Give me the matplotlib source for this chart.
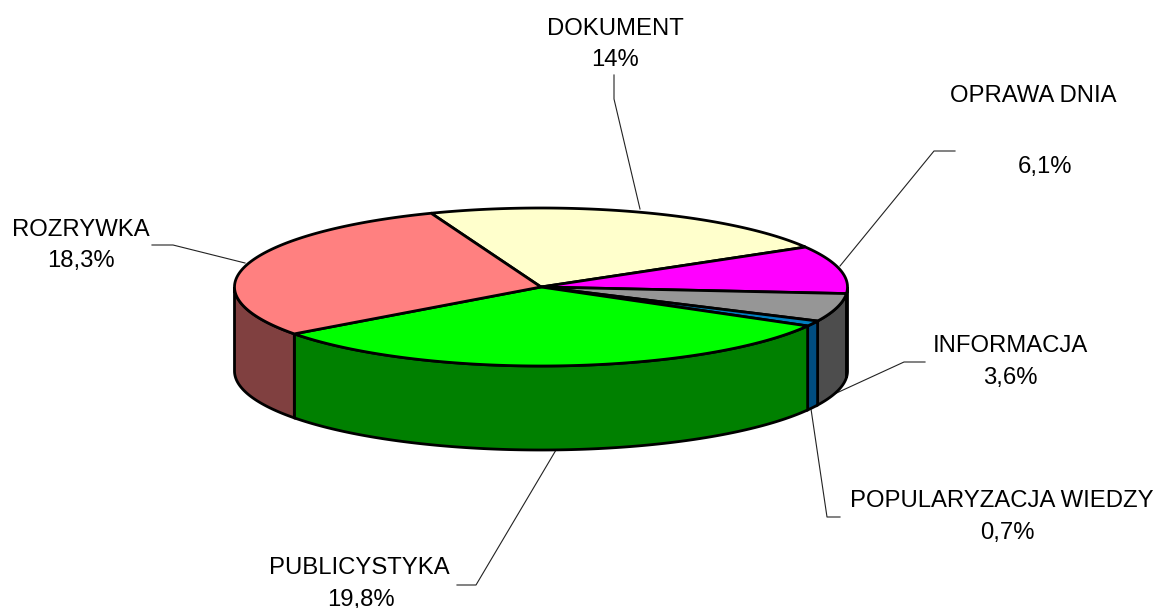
import numpy as np
import matplotlib
matplotlib.use('Agg')
import matplotlib.pyplot as plt
from matplotlib.patches import Polygon

names = ["DOKUMENT", "OPRAWA DNIA", "INFORMACJA", "POPULARYZACJA WIEDZY", "PUBLICYSTYKA", "ROZRYWKA"]
values = [14, 6.1, 3.6, 0.7, 19.8, 18.3]
pct_labels = ["14%", "6,1%", "3,6%", "0,7%", "19,8%", "18,3%"]
top_colors = ["#FFFFCC", "#FF00FF", "#969696", "#0080C0", "#00FF00", "#FF8080"]
side_colors = ["#808066", "#800080", "#4D4D4D", "#004D80", "#008000", "#804040"]

CX, CY, RX, RY = 541, 287, 306.5, 79
DEPTH = 84
START = 111

plt.rcParams['font.family'] = ['Liberation Sans', 'DejaVu Sans']

fig = plt.figure(figsize=(11.57, 6.08), dpi=100)
ax = fig.add_axes([0, 0, 1, 1])
ax.set_xlim(0, 1157)
ax.set_ylim(608, 0)
ax.axis('off')


def arc(a1, a2, dy=0):
    t = np.radians(np.linspace(a1, a2, 200))
    return np.column_stack([CX + RX * np.cos(t), CY - RY * np.sin(t) + dy])


# slices go clockwise from the start angle
edges = START - np.cumsum([0] + values) / sum(values) * 360

# side walls, only the front half of the rim shows
for i in range(len(values)):
    a1, a2 = edges[i], edges[i + 1]
    for lo, hi in [(-180, 0), (-540, -360)]:
        s, e = min(a1, hi), max(a2, lo)
        if s > e:
            top = arc(s, e)
            bottom = arc(e, s, DEPTH)
            ax.add_patch(Polygon(np.vstack([top, bottom]), closed=True,
                                 facecolor=side_colors[i], edgecolor='black',
                                 linewidth=2.0, zorder=2))

# top face
for i in range(len(values)):
    pts = np.vstack([[CX, CY], arc(edges[i], edges[i + 1])])
    ax.add_patch(Polygon(pts, closed=True, facecolor=top_colors[i],
                         edgecolor='black', linewidth=2.0, zorder=3))

# leader lines
leaders = [
    [(614, 75), (614, 99), (640, 209)],
    [(955, 151), (934, 151), (840, 266)],
    [(925, 362), (904, 362), (830, 396)],
    [(840, 517), (827, 517), (811, 409)],
    [(457, 585), (476, 585), (556, 450)],
    [(152, 245), (173, 245), (245, 263)],
]
for pts in leaders:
    xs, ys = zip(*pts)
    ax.plot(xs, ys, color='#222222', linewidth=0.8, zorder=1)

# name x, name y, percent x, percent y
label_pos = [
    (615, 29, 615, 60),
    (1033, 96, 1045, 167),
    (1010, 346, 1010, 378),
    (1002, 501, 1007, 533),
    (359, 568, 361, 600),
    (81, 230, 81, 261),
]
for name, pct, (x1, y1, x2, y2) in zip(names, pct_labels, label_pos):
    ax.text(x1, y1, name, ha='center', va='center', fontsize=17.2, color='black')
    ax.text(x2, y2, pct, ha='center', va='center', fontsize=17.2, color='black')

fig.savefig('out.png', dpi=100)
